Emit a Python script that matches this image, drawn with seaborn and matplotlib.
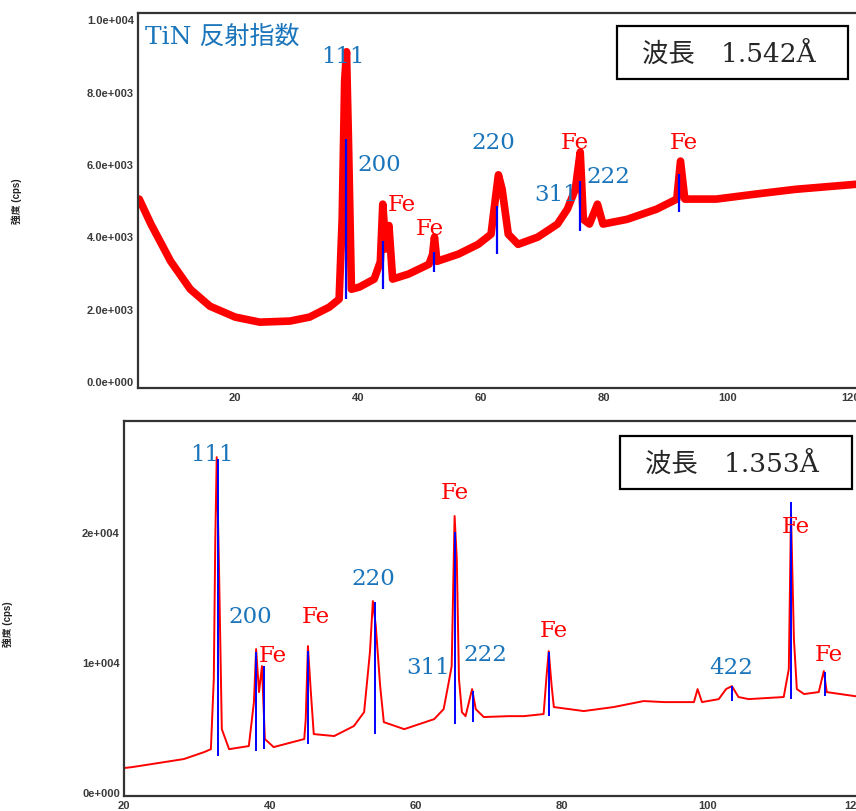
import numpy as np
import pandas as pd
import matplotlib
matplotlib.use('Agg')
import matplotlib.pyplot as plt
from matplotlib.patches import Rectangle
import seaborn as sns

# --- data ---

# top panel: lambda = 1.542 A (2theta, cps)
top_x = [4.4, 6.3, 9.5, 12.7, 15.9, 20.0, 24.0, 28.9, 32.1, 35.3, 36.9, 37.4, 37.8,
         38.1, 38.4, 38.9, 40.2, 42.6, 43.6, 44.0, 44.5, 45.0, 45.6, 48.2, 51.5,
         52.1, 52.4, 52.8, 56.3, 59.5, 61.6, 62.4, 62.8, 63.4, 64.4, 66.0, 69.2,
         72.4, 74.0, 75.3, 76.1, 76.6, 77.6, 78.9, 79.8, 83.7, 88.5, 91.8, 92.4,
         93.1, 98.2, 104.7, 111.1, 121.0]
top_y = [5030, 4340, 3315, 2540, 2070, 1770, 1630, 1660, 1770, 2045, 2265, 4500, 8300,
         9100, 6800, 2540, 2600, 2820, 3300, 4890, 3650, 4300, 2820, 2960, 3230,
         3500, 3980, 3310, 3510, 3780, 4060, 5170, 5700, 5300, 4060, 3780, 3980,
         4340, 4750, 5300, 6330, 4470, 4340, 4890, 4340, 4470, 4750, 5030, 6080,
         5030, 5030, 5170, 5300, 5440]

# reference sticks, top panel (position, low, high)
top_stick_x = [38.06, 44.0, 52.4, 62.6, 76.1, 92.1]
top_stick_lo = [2265, 2540, 3010, 3510, 4140, 4670]
top_stick_hi = [6685, 3870, 3560, 4830, 5520, 5720]

# bottom panel: lambda = 1.353 A
bot_x = [20.0, 21.1, 28.2, 31.0, 31.9, 32.3, 32.5, 32.7, 33.0, 33.4, 34.4, 37.1, 37.8,
         38.1, 38.5, 38.9, 39.3, 40.5, 44.7, 44.9, 45.2, 45.6, 46.0, 48.8, 51.5,
         52.9, 53.7, 54.1, 54.5, 55.1, 55.6, 58.4, 62.5, 63.8, 64.5, 64.9, 65.3,
         65.6, 65.9, 66.3, 66.8, 67.7, 68.2, 69.3, 72.7, 74.8, 77.5, 77.9, 78.2,
         78.6, 78.9, 83.0, 87.1, 91.2, 94.0, 98.1, 98.6, 99.2, 101.5, 102.5, 103.3,
         104.2, 105.6, 110.4, 111.1, 111.4, 111.8, 112.2, 113.2, 115.2, 115.9,
         116.3, 121.0]
bot_y = [1850, 1920, 2540, 3080, 3300, 8690, 19200, 25760, 17690, 4840, 3300, 3540, 6920,
         11000, 7690, 9690, 4080, 3460, 4080, 5600, 11230, 7690, 4460, 4310, 5080,
         6150, 10770, 14690, 12770, 8150, 5380, 4840, 5610, 6380, 8460, 9690, 21230,
         17920, 8690, 6150, 5840, 7920, 6380, 5770, 5840, 5840, 6000, 8920, 10840,
         8150, 6540, 6230, 6540, 7000, 6920, 6920, 7920, 6920, 7150, 7920, 8150,
         7310, 7150, 7310, 9460, 21530, 11770, 7920, 7540, 7690, 9310,
         7690, 7310]

bot_stick_x = [32.9, 38.1, 39.2, 45.2, 54.4, 65.3, 67.8, 78.2, 103.3, 111.4, 116.0]
bot_stick_lo = [2770, 3150, 3300, 3690, 4460, 5230, 5380, 5840, 7000, 7150, 7380]
bot_stick_hi = [25600, 10770, 9690, 10840, 14610, 20000, 7770, 10770, 8150, 22300, 9230]

# peak labels (text, x, y)
top_hkl = ['111', '200', '220', '311', '222']
top_hkl_x = [37.6, 43.5, 61.9, 72.1, 80.6]
top_hkl_y = [8980, 5995, 6600, 5170, 5660]
top_fe_x = [47.1, 51.6, 75.2, 92.9]
top_fe_y = [4890, 4230, 6600, 6600]

bot_hkl = ['111', '200', '220', '311', '222', '422']
bot_hkl_x = [32.1, 37.3, 54.1, 61.6, 69.5, 103.2]
bot_hkl_y = [26000, 13540, 16460, 9615, 10615, 9615]
bot_fe_x = [40.4, 46.3, 65.3, 78.9, 112.1, 116.6]
bot_fe_y = [10540, 13540, 23080, 12460, 20460, 10615]

top_ticks = [0, 2000, 4000, 6000, 8000, 10000]
top_ticklabels = ['0.0e+000', '2.0e+003', '4.0e+003', '6.0e+003', '8.0e+003', '1.0e+004']
bot_ticks = [0, 10000, 20000]
bot_ticklabels = ['0e+000', '1e+004', '2e+004']
x_ticks = [20, 40, 60, 80, 100, 120]

# --- plotting ---
sns.set_style('white')
plt.rcParams['font.family'] = ['Liberation Sans', 'Noto Sans CJK JP']

LBL_BLUE = '#1b75bb'
SERIF = ['DejaVu Serif', 'Noto Sans CJK JP']

fig = plt.figure(figsize=(8.56, 8.12), dpi=100)
ax1 = fig.add_axes([0.1612, 0.5209, 0.840, 0.4618])
ax2 = fig.add_axes([0.1449, 0.0185, 0.861, 0.4618])

df_top = pd.DataFrame({'tt': top_x, 'cps': top_y})
df_bot = pd.DataFrame({'tt': bot_x, 'cps': bot_y})

# thick line stands in for the noisy band of the top scan
sns.lineplot(data=df_top, x='tt', y='cps', ax=ax1, color='red', lw=5.5, sort=False,
             solid_joinstyle='round')
ax1.vlines(top_stick_x, top_stick_lo, top_stick_hi, color='blue', lw=1.6)

sns.lineplot(data=df_bot, x='tt', y='cps', ax=ax2, color='red', lw=1.4, sort=False)
ax2.vlines(bot_stick_x, bot_stick_lo, bot_stick_hi, color='blue', lw=1.4)

ax1.set_xlim(4.2, 121.1)
ax1.set_ylim(-190, 10170)
ax2.set_xlim(20, 121)
ax2.set_ylim(-300, 28540)

for ax, yt, ytl in [(ax1, top_ticks, top_ticklabels), (ax2, bot_ticks, bot_ticklabels)]:
    ax.set_xticks(x_ticks)
    ax.set_xticklabels([str(t) for t in x_ticks], fontweight='bold')
    ax.set_yticks(yt)
    ax.set_yticklabels(ytl, fontweight='bold')
    ax.tick_params(length=0, labelsize=8, labelcolor='#3a3a3a', pad=3)
    ax.set_xlabel('')
    ax.set_ylabel('強度 (cps)', fontsize=7, color='#222222', fontweight='bold')
    for s in ax.spines.values():
        s.set_color('#333333')
        s.set_linewidth(1.6)

ax1.yaxis.set_label_coords(-0.161, 0.5)
ax2.yaxis.set_label_coords(-0.151, 0.46)

# labels
ax1.text(0.01, 0.97, 'TiN 反射指数', transform=ax1.transAxes, color=LBL_BLUE,
         fontsize=18, family=SERIF, ha='left', va='top')
for t, x, y in zip(top_hkl, top_hkl_x, top_hkl_y):
    ax1.text(x, y, t, color=LBL_BLUE, fontsize=16.5, family=SERIF, ha='center', va='center')
for x, y in zip(top_fe_x, top_fe_y):
    ax1.text(x, y, 'Fe', color='red', fontsize=16.5, family=SERIF, ha='center', va='center')
for t, x, y in zip(bot_hkl, bot_hkl_x, bot_hkl_y):
    ax2.text(x, y, t, color=LBL_BLUE, fontsize=16.5, family=SERIF, ha='center', va='center')
for x, y in zip(bot_fe_x, bot_fe_y):
    ax2.text(x, y, 'Fe', color='red', fontsize=16.5, family=SERIF, ha='center', va='center')

# wavelength boxes
for ax, box, txt in [(ax1, (0.666, 0.824, 0.3215, 0.141), '波長　1.542Å'),
                     (ax2, (0.6726, 0.819, 0.3154, 0.141), '波長　1.353Å')]:
    bx, by, bw, bh = box
    ax.add_patch(Rectangle((bx, by), bw, bh, transform=ax.transAxes, fill=True,
                           facecolor='white', edgecolor='black', lw=1.6, zorder=5))
    ax.text(bx + bw / 2 - 0.005, by + bh / 2, txt, transform=ax.transAxes, fontsize=19,
            family=SERIF, ha='center', va='center', zorder=6)

fig.savefig('out.png', dpi=100)
